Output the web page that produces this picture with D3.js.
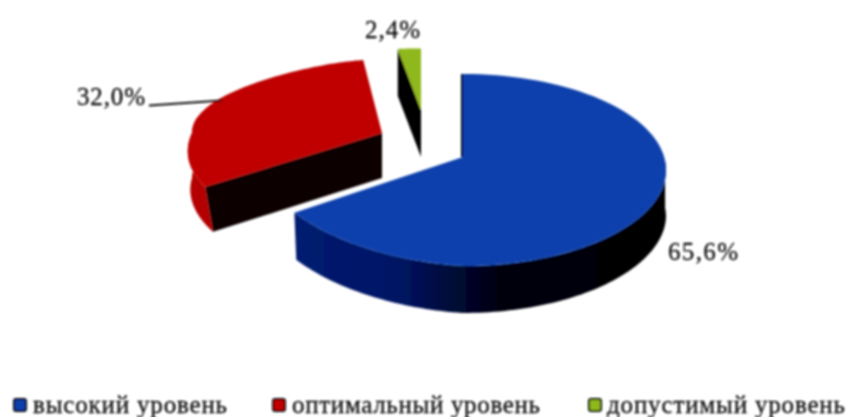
<!DOCTYPE html>
<html><head><meta charset="utf-8">
<script src="https://cdn.jsdelivr.net/npm/d3@7"></script>
<style>html,body{margin:0;padding:0;background:#fff}svg{display:block}text{font-family:"Liberation Serif",serif;fill:#111;stroke:#111;stroke-width:.3}</style>
</head><body><svg id="c" width="847" height="417"></svg>
<script>
const categories=["высокий уровень","оптимальный уровень","допустимый уровень"];
const values=[65.6,32.0,2.4];
const valueLabels=["65,6%","32,0%","2,4%"];
const topColors=["#0840ac","#c00000","#8fb81a"];

// per-slice projection of the tilted, exploded disc
const apexX=[463,382,421], apexY=[157,133,110];
const radiusX=[203,190,235], radiusY=[96,88.5,75.6], bulgeY=[0,14.8,14];
const centerShift=[13,0,0], leftSkew=[13,0,0];
const backTaper=[0,.35,.35], frontFlare=[0,.217,0];
const wallDepth=[47,45,47], baseTaper=[.02,.08,0];

const svg=d3.select("#c");
const defs=svg.append("defs");
defs.append("filter").attr("id","soft").attr("x","-5%").attr("y","-5%").attr("width","110%").attr("height","110%")
  .append("feGaussianBlur").attr("stdDeviation",1);
const g1=defs.append("linearGradient").attr("id","blueWall").attr("x1",0).attr("x2",1).attr("y1",0).attr("y2",0);
g1.append("stop").attr("offset",0).attr("stop-color","#031c70");
g1.append("stop").attr("offset",.28).attr("stop-color","#011464");
g1.append("stop").attr("offset",.55).attr("stop-color","#000010");
g1.append("stop").attr("offset",1).attr("stop-color","#000");
const root=svg.append("g").attr("filter","url(#soft)");

const arcs=d3.pie().sort(null).value(d=>d)(values);

function projector(i){
  const sx=d3.scaleLinear().domain([-1,1]).range([-radiusX[i],radiusX[i]]);
  const sy=d3.scaleLinear().domain([-1,1]).range([-radiusY[i],radiusY[i]]);
  return function(a,r,level){
    const u=Math.sin(a)*r, v=-Math.cos(a)*r;
    const factor=v<0?1-backTaper[i]*v*v:1+frontFlare[i]*v;
    const shrink=level?1-baseTaper[i]*Math.max(v,0):1;
    return [apexX[i]+sx(u*factor)*shrink,
            apexY[i]+r*centerShift[i]+sy(v)+bulgeY[i]*v*v+leftSkew[i]*Math.min(u,0)+(level?wallDepth[i]:0)];
  };
}
const line=d3.line();
const rim=(p,a0,a1,level)=>d3.range(0,1.0001,.01).map(t=>p(a0+(a1-a0)*t,1,level));

// walls
const wallSpan=[[Math.PI*.47,arcs[0].endAngle,"url(#blueWall)"],[arcs[1].startAngle,Math.PI*1.56,"#b40000"]];
wallSpan.forEach((w,i)=>{
  const p=projector(i);
  root.append("path").attr("d",line(rim(p,w[0],w[1],0).concat(rim(p,w[1],w[0],1)))+"Z").attr("fill",w[2]);
});
// thin dark back edge of the blue slice
{
  const p=projector(0), a=p(0,0,0), b=p(0,1,0);
  root.append("path").attr("d",line([a,b])).attr("transform","translate(-1,0)").attr("fill","none").attr("stroke","#000").attr("stroke-width",2);
}
// cut faces
[1,2].forEach(i=>{
  const p=projector(i), a=arcs[i].startAngle;
  root.append("path").attr("d",line([p(a,0,0),p(a,1,0),p(a,1,1),p(a,0,1)])+"Z").attr("fill",i==1?"#0c0000":"#000");
});
// top faces
arcs.forEach((d,i)=>{
  const p=projector(i);
  root.append("path").attr("d",line([p(0,0,0)].concat(rim(p,d.startAngle,d.endAngle,0)))+"Z").attr("fill",topColors[i]);
});

// leader for the red slice
const leader=[[149,105.5],[222,100.5]];
root.append("path").attr("d",line(leader)).attr("fill","none").attr("stroke","#111").attr("stroke-width",2);

// value labels
const labelX=[668,77,365], labelY=[260,105,38], labelW=[70,68,55];
valueLabels.forEach((t,i)=>{
  root.append("text").attr("x",labelX[i]).attr("y",labelY[i]).attr("font-size",25)
    .attr("textLength",labelW[i]).attr("lengthAdjust","spacing").text(t);
});

// legend
const keyX=[14,273,589], textX=[33,292,607], textW=[194,248,238];
categories.forEach((c,i)=>{
  root.append("rect").attr("x",keyX[i]).attr("y",399).attr("width",12).attr("height",12).attr("rx",2)
    .attr("fill",topColors[i]).attr("stroke","#111").attr("stroke-width",2);
  root.append("text").attr("x",textX[i]).attr("y",413).attr("font-size",25)
    .attr("textLength",textW[i]).attr("lengthAdjust","spacing").text(c);
});
</script></body></html>
